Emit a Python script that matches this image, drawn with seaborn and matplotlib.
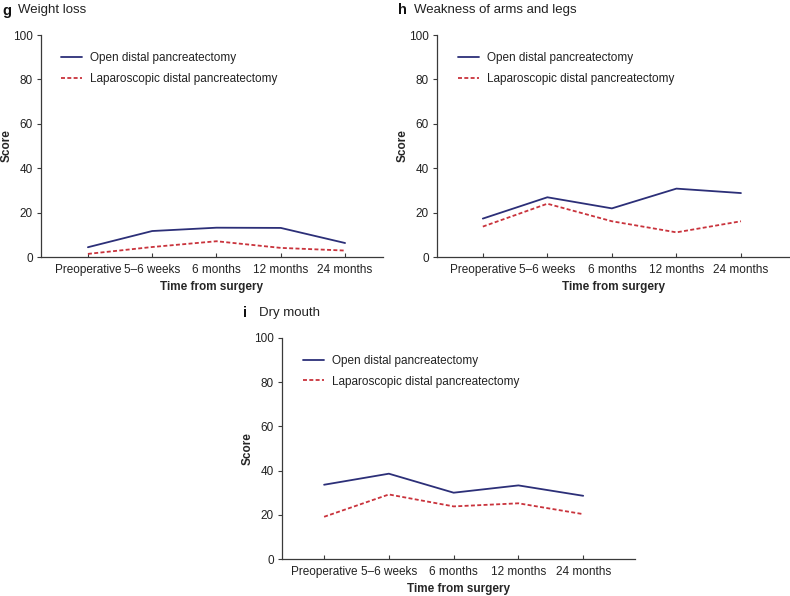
## Recreate QoL symptom score panels (g, h, i)

import pandas as pd
import seaborn as sns
import matplotlib.pyplot as plt

## Data
timepoints = ['Preoperative', '5–6 weeks', '6 months', '12 months', '24 months']
groups = ['Open distal pancreatectomy', 'Laparoscopic distal pancreatectomy']

weight_open = [4.4, 11.7, 13.2, 13.1, 6.3]
weight_lap = [1.4, 4.5, 7.1, 4.1, 2.9]

weakness_open = [17.3, 26.9, 21.9, 30.8, 28.8]
weakness_lap = [13.7, 24.0, 16.1, 11.1, 16.1]

dry_open = [33.6, 38.6, 30.0, 33.3, 28.6]
dry_lap = [19.1, 29.2, 23.8, 25.2, 20.3]

panels = [('g', 'Weight loss', weight_open, weight_lap),
          ('h', 'Weakness of arms and legs', weakness_open, weakness_lap),
          ('i', 'Dry mouth', dry_open, dry_lap)]

## Style
sns.set_style('ticks')
plt.rcParams['font.family'] = ['Liberation Sans', 'DejaVu Sans']

open_col = '#2c2f78'
lap_col = '#c9333c'
axis_col = '#3a3a3a'

fig = plt.figure(figsize=(7.9, 5.96), dpi=100)

# axes boxes in figure pixels: left, right, top (y=100), bottom (y=0)
boxes = [(41, 383, 35, 257), (437, 790, 35, 257), (282, 635, 338, 559)]
xlims = [(-0.73, 4.59), (-0.71, 4.76), (-0.65, 4.80)]
title_y = [10.5, 10.5, 313]


def make_long(open_vals, lap_vals):
    df = pd.DataFrame({'Time': list(range(len(timepoints))) * 2,
                       'Score': open_vals + lap_vals,
                       'Group': [groups[0]] * 5 + [groups[1]] * 5})
    return df


for (letter, title, ov, lv), (l, r, t, b), xl, ty in zip(panels, boxes, xlims, title_y):
    w_px = r - l
    h_px = b - t
    ax = fig.add_axes([l / 790, 1 - b / 596, w_px / 790, h_px / 596])
    df = make_long(ov, lv)
    sns.lineplot(data=df, x='Time', y='Score', hue='Group', style='Group',
                 palette=[open_col, lap_col], dashes=[(None, None), (2.2, 1.3)],
                 linewidth=1.3, ax=ax)

    ax.set_ylim(0, 100)
    ax.set_xlim(*xl)
    ax.set_yticks([0, 20, 40, 60, 80, 100])
    ax.set_xticks(range(len(timepoints)))
    ax.set_xticklabels(timepoints)
    ax.tick_params(axis='y', direction='out', length=3, width=0.8,
                   colors=axis_col, labelsize=8.5, labelcolor='#222222', pad=3)
    ax.tick_params(axis='x', direction='in', length=3, width=0.8,
                   colors=axis_col, labelsize=8.5, labelcolor='#222222', pad=5)
    sns.despine(ax=ax)
    for sp in ['left', 'bottom']:
        ax.spines[sp].set_color(axis_col)
        ax.spines[sp].set_linewidth(0.9)

    ax.set_xlabel('Time from surgery', fontsize=8.5, fontweight='bold')
    ax.set_ylabel('Score', fontsize=8.5, fontweight='bold')
    ax.xaxis.set_label_coords(0.5, -30 / h_px)
    ax.yaxis.set_label_coords(-34 / w_px, 0.5)
    ax.xaxis.label.set_va('center')
    ax.yaxis.label.set_va('center')

    leg = ax.legend(loc='upper left', bbox_to_anchor=(0.045, 0.943), frameon=False,
                    fontsize=8.5, handlelength=1.8, handletextpad=0.65,
                    labelspacing=0.7, borderaxespad=0)
    for txt in leg.get_texts():
        txt.set_color('#222222')

    ## Panel title: bold letter plus plain title
    fig.text((l - 39) / 790, 1 - ty / 596, letter,
             fontsize=10.5, fontweight='bold', va='center', ha='left', color='#111111')
    fig.text((l - 23) / 790, 1 - ty / 596, title,
             fontsize=9.5, va='center', ha='left', color='#222222')

plt.savefig('out.png', dpi=100)
plt.close()
